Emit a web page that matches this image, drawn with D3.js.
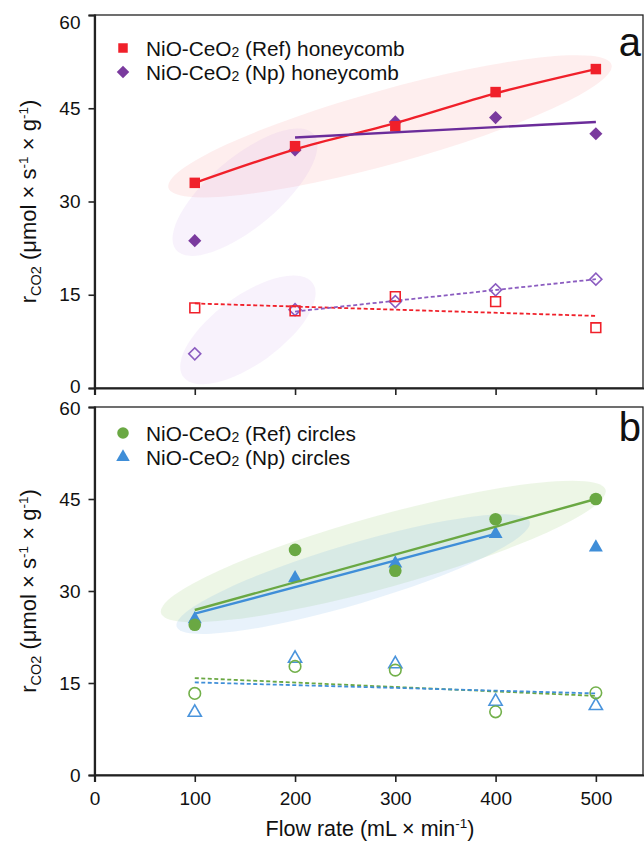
<!DOCTYPE html>
<html><head><meta charset="utf-8">
<script src="https://cdn.jsdelivr.net/npm/d3@7"></script>
<style>
html,body{margin:0;padding:0;background:#fff;}
text{font-family:"Liberation Sans",Arial,sans-serif;fill:#111;}
</style></head>
<body><svg id="c" width="644" height="842"></svg>
<script>
// ---------- data ----------
const flow = [100, 200, 300, 400, 500];
const xTicks = [0, 100, 200, 300, 400, 500];
const yTicks = [0, 15, 30, 45, 60];

// panel a (honeycomb)
const honeyRefFilled = [33.0, 38.9, 42.1, 47.6, 51.3];
const honeyNpFilled  = [23.7, 38.3, 42.8, 43.5, 40.9];
const honeyRefOpen   = [12.9, 12.4, 14.7, 13.9, 9.7];
const honeyNpOpen    = [5.5, 12.6, 13.9, 15.8, 17.5];
const honeyRefFit     = [[100, 33.0], [200, 38.4], [300, 42.6], [400, 47.4], [500, 51.3]];
const honeyNpFit      = [[200, 40.3], [500, 42.8]];
const honeyRefOpenFit = [[100, 13.6], [500, 11.6]];
const honeyNpOpenFit  = [[200, 12.3], [500, 17.5]];

// panel b (circles)
const circRefFilled = [24.5, 36.7, 33.3, 41.7, 45.0];
const circNpFilled  = [25.4, 32.1, 34.5, 39.3, 37.1];
const circRefOpen   = [13.3, 17.7, 17.1, 10.3, 13.4];
const circNpOpen    = [10.2, 19.0, 18.1, 12.0, 11.3];
const circRefFit     = [[100, 26.9], [500, 45.0]];
const circNpFit      = [[100, 26.3], [400, 39.3]];
const circRefOpenFit = [[100, 15.8], [500, 12.9]];
const circNpOpenFit  = [[100, 15.1], [500, 13.3]];

// highlight ellipses: major-axis end points in data units
const ellipsesA = [
  {p1: [73.7, 32.2], p2: [515.6, 52.0], color: "rgb(248,170,170)", w: 37, op: 0.2},
  {p1: [81.4, 22.2], p2: [218.7, 40.8], color: "rgb(200,150,230)", w: 35, op: 0.12},
  {p1: [88.5, 1.8],  p2: [217.5, 16.9], color: "rgb(200,150,230)", w: 34, op: 0.12}
];
const ellipsesB = [
  {p1: [66.3, 26.4], p2: [509.7, 46.5], color: "rgb(140,200,100)", w: 36, op: 0.16},
  {p1: [81.9, 24.2], p2: [434.0, 41.3], color: "rgb(90,160,230)", w: 30, op: 0.14}
];

// ---------- drawing ----------
const svg = d3.select("#c");
const X0 = 94.5, X1 = 643;
const x = d3.scaleLinear().domain([0, 550]).range([X0, 646]);

const RED = "#f0202a", PURPLE = "#7a3a9e", PURPLE_OPEN = "#8b5cc0",
      GREEN = "#6aa843", BLUE = "#3f8ed8";

function panel(top, bottom) {
  const g = svg.append("g");
  const y = d3.scaleLinear().domain([0, 60]).range([bottom, top]);
  return {g, y};
}

function drawEllipses(g, y, list) {
  list.forEach(e => {
    const ax = x(e.p1[0]), ay = y(e.p1[1]), bx = x(e.p2[0]), by = y(e.p2[1]);
    const cx = (ax + bx) / 2, cy = (ay + by) / 2;
    const rx = Math.hypot(bx - ax, by - ay) / 2;
    const ang = Math.atan2(by - ay, bx - ax) * 180 / Math.PI;
    g.append("ellipse").attr("cx", 0).attr("cy", 0).attr("rx", rx).attr("ry", e.w)
      .attr("transform", `translate(${cx},${cy}) rotate(${ang})`)
      .attr("fill", e.color).attr("fill-opacity", e.op);
  });
}

function drawLine(g, y, pts, color, dashed, curve) {
  const ln = d3.line().x(d => x(d[0])).y(d => y(d[1])).curve(curve || d3.curveLinear);
  g.append("path").attr("d", ln(pts)).attr("fill", "none").attr("stroke", color)
    .attr("stroke-width", dashed ? 1.8 : 2.4)
    .attr("stroke-dasharray", dashed ? "4,2.5" : null);
}

function drawMarkers(g, y, vals, type, color, filled) {
  const sym = {
    square: d3.symbol(d3.symbolSquare, filled ? 110 : 95),
    diamond: d3.symbol(d3.symbolSquare, filled ? 86 : 72),
    circle: d3.symbol(d3.symbolCircle, filled ? 125 : 105),
    triangle: d3.symbol(d3.symbolTriangle, filled ? 85 : 75)
  }[type];
  g.selectAll(null).data(vals).join("path")
    .attr("d", sym)
    .attr("transform", (d, i) => `translate(${x(flow[i])},${y(d)})` + (type === "diamond" ? " rotate(45)" : ""))
    .attr("fill", filled ? color : "none")
    .attr("stroke", filled ? "none" : color)
    .attr("stroke-width", filled ? 0 : 1.6);
}

function axes(g, y, top, bottom, showXLabels, isTop) {
  g.append("rect").attr("x", X0).attr("y", top).attr("width", X1 - X0).attr("height", bottom - top)
    .attr("fill", "none").attr("stroke", "#222").attr("stroke-width", 1.3);
  const ya = g.append("g").attr("transform", `translate(${X0},0)`)
    .call(d3.axisLeft(y).tickValues(yTicks).tickSize(6).tickPadding(8));
  const xa = g.append("g").attr("transform", `translate(0,${bottom})`)
    .call(d3.axisBottom(x).tickValues(xTicks).tickSize(7).tickPadding(10)
      .tickFormat(showXLabels ? d3.format("d") : () => ""));
  [ya, xa].forEach(a => {
    a.select(".domain").attr("stroke", "#222").attr("stroke-width", 2.2);
    a.selectAll(".tick line").attr("stroke", "#222").attr("stroke-width", 1.6);
    a.selectAll(".tick text").attr("font-size", 19).attr("font-family", '"Liberation Sans", Arial, sans-serif').attr("fill", "#111");
  });
  if (isTop) {
    ya.selectAll(".tick").filter(d => d === 60).select("text").attr("y", 7);
    ya.selectAll(".tick").filter(d => d === 0).select("text").attr("y", -2);
  } else {
    ya.selectAll(".tick").filter(d => d === 60).select("text").attr("y", 1.5);
  }
  const cy = (top + bottom) / 2;
  const t = g.append("text").attr("transform", `translate(36,${cy}) rotate(-90)`)
    .attr("text-anchor", "middle").attr("font-size", 22);
  t.append("tspan").text("r");
  t.append("tspan").attr("font-size", 14.5).attr("dy", 5).text("CO2");
  t.append("tspan").attr("dy", -5).text(" (μmol × s");
  t.append("tspan").attr("font-size", 13.5).attr("dy", -8).text("-1");
  t.append("tspan").attr("dy", 8).text(" × g");
  t.append("tspan").attr("font-size", 13.5).attr("dy", -8).text("-1");
  t.append("tspan").attr("dy", 8).text(")");
}

function legend(g, items, y0) {
  items.forEach((it, i) => {
    const yy = y0 + i * 24;
    const sym = {
      square: d3.symbol(d3.symbolSquare, 90),
      diamond: d3.symbol(d3.symbolSquare, 78),
      circle: d3.symbol(d3.symbolCircle, 105),
      triangle: d3.symbol(d3.symbolTriangle, 80)
    }[it.type];
    g.append("path").attr("d", sym)
      .attr("transform", `translate(123,${yy})` + (it.type === "diamond" ? " rotate(45)" : ""))
      .attr("fill", it.color);
    const t = g.append("text").attr("x", 146).attr("y", yy + 7.5).attr("font-size", 20.8);
    t.append("tspan").text("NiO-CeO");
    t.append("tspan").attr("font-size", 14).attr("dy", 1).text("2");
    t.append("tspan").attr("dy", -1).text(it.label);
  });
}

// ---- panel a ----
{
  const top = 15, bottom = 388;
  const {g, y} = panel(top, bottom);
  drawEllipses(g, y, ellipsesA);
  drawMarkers(g, y, honeyNpFilled, "diamond", PURPLE, true);
  drawLine(g, y, honeyRefFit, RED, false, d3.curveMonotoneX);
  drawMarkers(g, y, honeyRefFilled, "square", RED, true);
  drawLine(g, y, honeyNpFit, "#6b2c9a", false);
  drawMarkers(g, y, honeyNpOpen, "diamond", PURPLE_OPEN, false);
  drawLine(g, y, honeyRefOpenFit, RED, true);
  drawLine(g, y, honeyNpOpenFit, PURPLE_OPEN, true);
  drawMarkers(g, y, honeyRefOpen, "square", RED, false);
  axes(g, y, top, bottom, false, true);
  legend(g, [
    {type: "square", color: RED, label: " (Ref) honeycomb"},
    {type: "diamond", color: PURPLE, label: " (Np) honeycomb"}
  ], 48);
  g.append("text").attr("x", 641).attr("y", 56).attr("text-anchor", "end").attr("font-size", 40).text("a");
}

// ---- panel b ----
{
  const top = 407, bottom = 775;
  const {g, y} = panel(top, bottom);
  drawEllipses(g, y, ellipsesB);
  drawMarkers(g, y, circNpFilled, "triangle", BLUE, true);
  drawMarkers(g, y, circRefFilled, "circle", GREEN, true);
  drawLine(g, y, circRefFit, GREEN, false);
  drawLine(g, y, circNpFit, BLUE, false);
  drawMarkers(g, y, circNpOpen, "triangle", "#4a94dc", false);
  drawMarkers(g, y, circRefOpen, "circle", "#72b04a", false);
  drawLine(g, y, circRefOpenFit, GREEN, true);
  drawLine(g, y, circNpOpenFit, BLUE, true);
  axes(g, y, top, bottom, true, false);
  legend(g, [
    {type: "circle", color: GREEN, label: " (Ref) circles"},
    {type: "triangle", color: BLUE, label: " (Np) circles"}
  ], 433);
  g.append("text").attr("x", 641).attr("y", 441).attr("text-anchor", "end").attr("font-size", 40).text("b");
  const t = svg.append("text").attr("x", 370).attr("y", 836).attr("text-anchor", "middle").attr("font-size", 21.5);
  t.append("tspan").text("Flow rate (mL × min");
  t.append("tspan").attr("font-size", 13.5).attr("dy", -8).text("-1");
  t.append("tspan").attr("dy", 8).text(")");
}
</script></body></html>
